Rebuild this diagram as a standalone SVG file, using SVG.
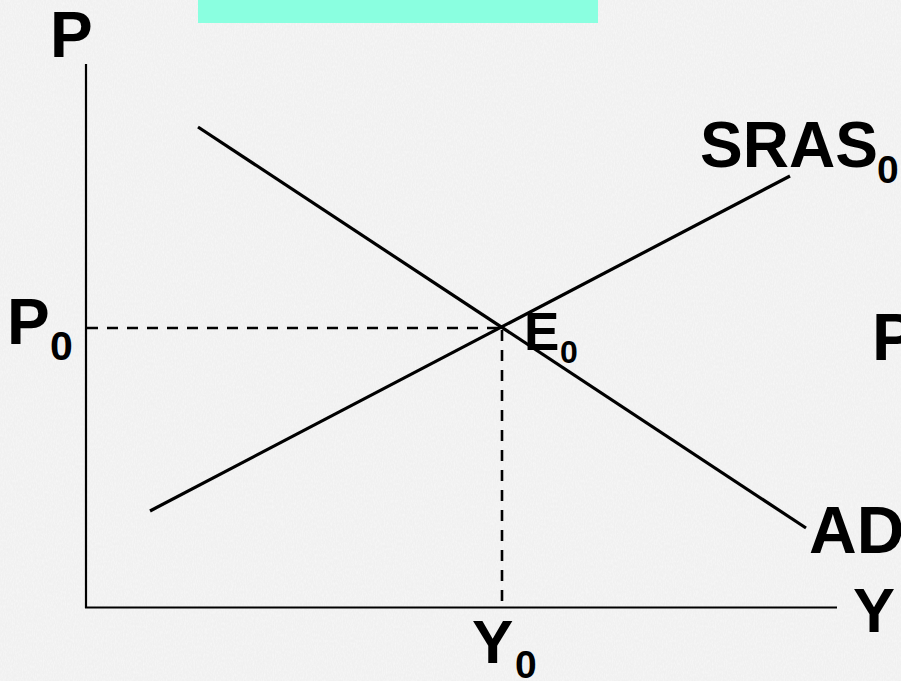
<svg xmlns="http://www.w3.org/2000/svg" width="901" height="681" viewBox="0 0 901 681">
  <style>
    .t { font-family: "Liberation Sans", Arial, sans-serif; font-weight: bold; fill: #000; }
    .axis { stroke: #000; stroke-width: 2.2; fill: none; }
    .curve { stroke: #000; stroke-width: 3.2; fill: none; stroke-linecap: butt; }
    .dash { stroke: #000; stroke-width: 2.6; fill: none; stroke-dasharray: 11 9; }
  </style>
  <defs>
    <filter id="paper" x="0" y="0" width="100%" height="100%">
      <feTurbulence type="fractalNoise" baseFrequency="0.9 0.35" numOctaves="3" seed="4" result="n"/>
      <feColorMatrix in="n" type="matrix" values="0 0 0 0 1  0 0 0 0 1  0 0 0 0 1  0 0 0 -1.6 1.1" result="w"/>
      <feComposite in="w" in2="SourceGraphic" operator="over"/>
    </filter>
  </defs>
  <rect id="background" x="0" y="0" width="901" height="681" fill="#ebebeb"/>
  <rect x="0" y="0" width="901" height="681" fill="#f4f4f4" opacity="0.6" filter="url(#paper)"/>
  <rect id="title-bar" x="198" y="0" width="400" height="23" fill="#8affe0"/>

  <g id="axes">
    <line class="axis" x1="86" y1="64" x2="86" y2="608"/>
    <line class="axis" x1="85" y1="607.5" x2="837" y2="607.5"/>
  </g>

  <g id="connectors">
    <line id="AD-curve" class="curve" x1="198" y1="127" x2="806" y2="528"/>
    <line id="SRAS-curve" class="curve" x1="150" y1="511" x2="790" y2="176"/>
    <line id="P0-guide" class="dash" x1="87" y1="328" x2="501" y2="328"/>
    <line id="Y0-guide" class="dash" x1="502" y1="330" x2="502" y2="606"/>
  </g>

  <g id="label-P"><text class="t" x="50" y="57" font-size="64">P</text></g>
  <g id="label-Y"><text class="t" x="853" y="632" font-size="63">Y</text></g>
  <g id="label-P0"><text class="t" x="7" y="344" font-size="64">P</text><text class="t" x="50" y="360" font-size="41">0</text></g>
  <g id="label-Y0"><text class="t" x="472" y="663" font-size="62">Y</text><text class="t" x="515" y="678" font-size="39">0</text></g>
  <g id="label-E0"><text class="t" x="524" y="350" font-size="53">E</text><text class="t" x="560" y="363" font-size="32">0</text></g>
  <g id="label-SRAS0"><text class="t" x="700" y="167" font-size="64">SRAS</text><text class="t" x="877" y="183" font-size="39">0</text></g>
  <g id="label-AD"><text class="t" x="809" y="553" font-size="66">AD</text></g>
  <g id="label-P-right"><text class="t" x="872" y="360" font-size="66">P</text></g>
</svg>
